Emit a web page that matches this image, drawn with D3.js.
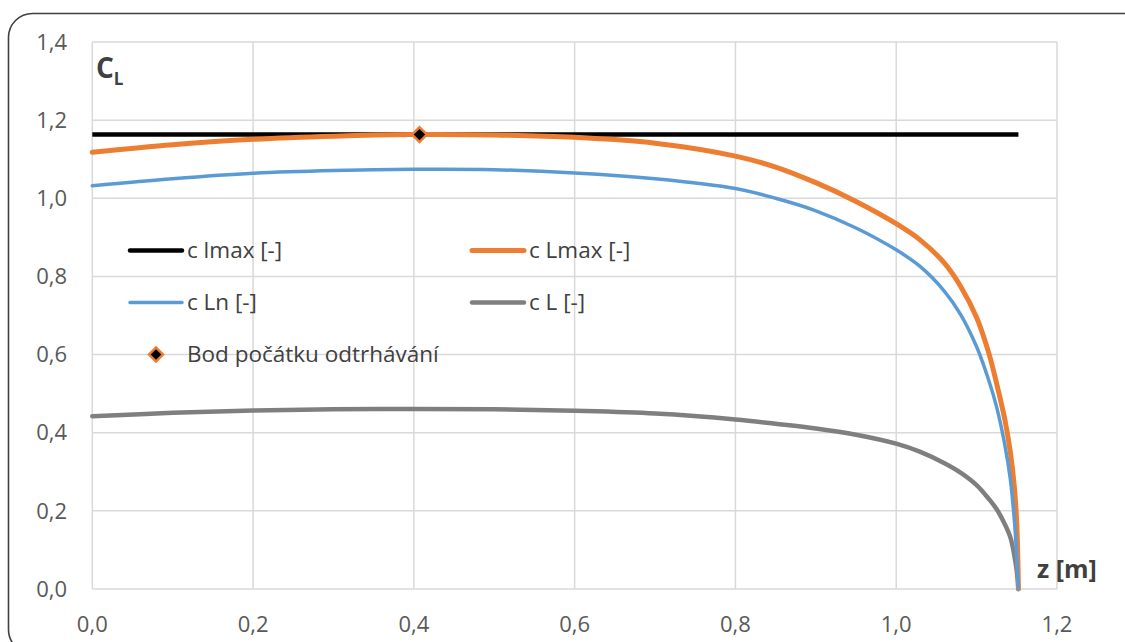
<!DOCTYPE html>
<html><head><meta charset="utf-8">
<script src="https://cdn.jsdelivr.net/npm/d3@7"></script>
<style>html,body{margin:0;padding:0;background:#fff;}svg{display:block;}</style>
</head><body>
<svg id="c" width="1125" height="642"></svg>
<script>
const z      = [0,0.1,0.2,0.3,0.4,0.5,0.6,0.7,0.8,0.85,0.9,0.95,1.0,1.03,1.06,1.08,1.1,1.115,1.125,1.135,1.142,1.147,1.15,1.152];
const cLmax  = [1.118,1.137,1.151,1.159,1.163,1.162,1.156,1.141,1.108,1.080,1.040,0.992,0.935,0.893,0.834,0.775,0.695,0.605,0.525,0.435,0.350,0.260,0.165,0];
const cLn    = [1.032,1.050,1.064,1.071,1.074,1.073,1.065,1.050,1.025,1.000,0.968,0.924,0.868,0.825,0.762,0.703,0.620,0.535,0.465,0.370,0.280,0.175,0.080,0];
const cL     = [0.442,0.451,0.457,0.460,0.461,0.460,0.456,0.449,0.434,0.423,0.411,0.395,0.372,0.351,0.322,0.298,0.266,0.231,0.204,0.166,0.132,0.085,0.045,0];
const zLmax  = [0,1.152];
const clmax  = [1.163,1.163];
const sepPoint = {z:0.407, c:1.163};
const xTicks = [0,0.2,0.4,0.6,0.8,1.0,1.2];
const yTicks = [0,0.2,0.4,0.6,0.8,1.0,1.2,1.4];
const legendNames = ["c lmax [-]","c Lmax [-]","c Ln [-]","c L [-]","Bod počátku odtrhávání"];

const svg = d3.select("#c");
const font = "'Open Sans', 'Noto Sans', sans-serif";
const x = d3.scaleLinear().domain([0,1.2]).range([92.3,1057]);
const y = d3.scaleLinear().domain([0,1.4]).range([589,42]);
const fmt = d => d.toFixed(1).replace(".", ",");

// outer frame
svg.append("rect").attr("x",8.5).attr("y",13.5).attr("width",1140).attr("height",640)
  .attr("rx",24).attr("fill","#fff").attr("stroke","#404040").attr("stroke-width",1.6);

// grid
const g = svg.append("g");
g.selectAll(".gx").data(xTicks).join("line")
  .attr("x1",d=>x(d)).attr("x2",d=>x(d)).attr("y1",y(0)).attr("y2",y(1.4))
  .attr("stroke","#d9d9d9").attr("stroke-width",1.5);
g.selectAll(".gy").data(yTicks).join("line")
  .attr("y1",d=>y(d)).attr("y2",d=>y(d)).attr("x1",x(0)).attr("x2",x(1.2))
  .attr("stroke","#d9d9d9").attr("stroke-width",1.5);

// tick labels
svg.append("g").selectAll("text").data(yTicks).join("text")
  .attr("x",67).attr("y",d=>y(d)).attr("dy","0.35em").attr("text-anchor","end")
  .attr("font-family",font).attr("font-size",22).attr("fill","#595959").text(fmt);
svg.append("g").selectAll("text").data(xTicks).join("text")
  .attr("x",d=>x(d)).attr("y",624).attr("dy","0.35em").attr("text-anchor","middle")
  .attr("font-family",font).attr("font-size",22).attr("fill","#595959").text(fmt);

// series
const line = (zs, vs) => d3.line().x((d,i)=>x(zs[i])).y(d=>y(d)).curve(d3.curveCatmullRom.alpha(0.5))(vs);
svg.append("path").attr("d",line(zLmax,clmax)).attr("fill","none").attr("stroke","#000").attr("stroke-width",4.5);
svg.append("path").attr("d",line(z,cL)).attr("fill","none").attr("stroke","#7f7f7f").attr("stroke-width",4.5).attr("stroke-linecap","round");
svg.append("path").attr("d",line(z,cLmax)).attr("fill","none").attr("stroke","#ed7d31").attr("stroke-width",5).attr("stroke-linecap","round");
svg.append("path").attr("d",line(z,cLn)).attr("fill","none").attr("stroke","#5b9bd5").attr("stroke-width",3.5).attr("stroke-linecap","round");

// marker
svg.append("path").attr("d",d3.symbol().type(d3.symbolSquare).size(110)())
  .attr("transform",`translate(${x(sepPoint.z)},${y(sepPoint.c)}) rotate(45)`)
  .attr("fill","#000").attr("stroke","#ed7d31").attr("stroke-width",2.4);

// legend
const leg = svg.append("g").attr("font-family",font).attr("font-size",22.5).attr("fill","#404040");
const items = [
  {n:legendNames[0], c:"#000", w:4.5, lx:130, ly:250.5},
  {n:legendNames[1], c:"#ed7d31", w:5, lx:472, ly:250.5},
  {n:legendNames[2], c:"#5b9bd5", w:3.5, lx:130, ly:302.5},
  {n:legendNames[3], c:"#7f7f7f", w:4.5, lx:472, ly:302.5}
];
items.forEach(it=>{
  leg.append("line").attr("x1",it.lx).attr("x2",it.lx+52).attr("y1",it.ly).attr("y2",it.ly)
    .attr("stroke",it.c).attr("stroke-width",it.w).attr("stroke-linecap","round");
  leg.append("text").attr("x",it.lx+57).attr("y",it.ly).attr("dy","0.35em").text(it.n);
});
leg.append("path").attr("d",d3.symbol().type(d3.symbolSquare).size(100)())
  .attr("transform","translate(156,354.5) rotate(45)")
  .attr("fill","#000").attr("stroke","#ed7d31").attr("stroke-width",2.4);
leg.append("text").attr("x",187).attr("y",354.5).attr("dy","0.35em").text(legendNames[4]);

// axis titles
const ct = svg.append("text").attr("x",96).attr("y",78).attr("font-family",font)
  .attr("font-weight","bold").attr("fill","#404040");
ct.append("tspan").attr("font-size",28).text("C");
ct.append("tspan").attr("font-size",17).attr("dy",7).text("L");
svg.append("text").attr("x",1037).attr("y",578).attr("font-family",font)
  .attr("font-weight","bold").attr("font-size",25).attr("fill","#404040").text("z [m]");
</script>
</body></html>
